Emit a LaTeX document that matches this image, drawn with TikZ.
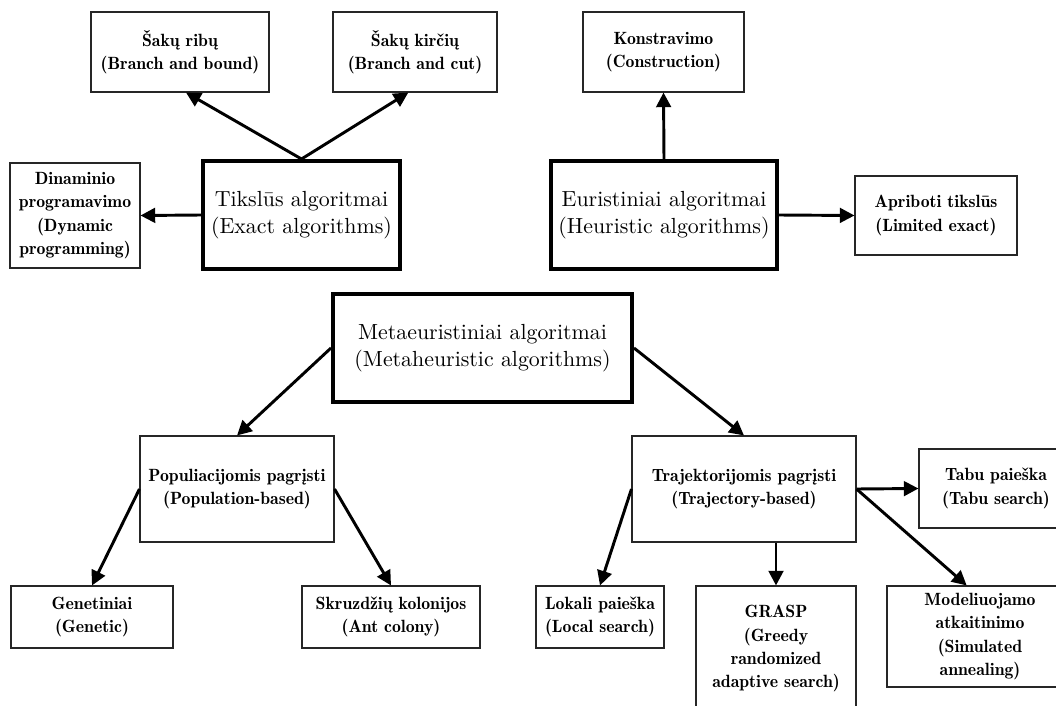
\documentclass[tikz,border=0pt]{standalone}
\usepackage{fontspec}
\newfontfamily\bigfnt{lmroman10-regular}[Extension=.otf]
\newfontfamily\smallfnt{lmromandemi10-regular}[Extension=.otf]
\usetikzlibrary{arrows.meta,calc}
\tikzset{
  x=0.75pt, y=-0.75pt,
  sbox/.style={draw=black!85, line width=0.8pt, rectangle, inner sep=0pt, align=center,
    font=\smallfnt\fontsize{13.3}{17.5}\selectfont},
  bbox/.style={draw=black, line width=3pt, rectangle, inner sep=0pt, align=center,
    font=\bigfnt\fontsize{16.4}{20.3}\selectfont},
  arr/.style={line width=2.2pt, -{Triangle[length=11pt,width=11pt]}},
}
\begin{document}
\begin{tikzpicture}
\useasboundingbox (0,0) rectangle (1056,706);
\clip (0,0) rectangle (1056,706);
\fill[white] (0,0) rectangle (1056,706);
% top left group
\node[sbox, minimum width=133.5pt, minimum height=60pt] (br) at (180,52) {Šakų ribų\\(Branch and bound)};
\node[sbox, minimum width=123pt, minimum height=60pt] (bc) at (415,52) {Šakų kirčių\\(Branch and cut)};
\node[sbox, minimum width=97.5pt, minimum height=78.75pt] (dp) at (75,215.5) {Dinaminio\\programavimo\\(Dynamic\\programming)};
\node[bbox, minimum width=147.75pt, minimum height=81pt] (ex) at (301.5,215) {Tikslūs algoritmai\\(Exact algorithms)};
% top right group
\node[sbox, minimum width=120.75pt, minimum height=60pt] (con) at (663.5,52) {Konstravimo\\(Construction)};
\node[bbox, minimum width=169.5pt, minimum height=81pt] (heu) at (664,215) {Euristiniai algoritmai\\(Heuristic algorithms)};
\node[sbox, minimum width=121.5pt, minimum height=59.25pt] (lim) at (936,215.5) {Apriboti tikslūs\\(Limited exact)};
% meta
\node[bbox, minimum width=224.25pt, minimum height=81pt] (meta) at (482.5,348) {Metaeuristiniai algoritmai\\(Metaheuristic algorithms)};
\node[sbox, minimum width=145.5pt, minimum height=79.5pt] (pop) at (237,489) {Populiacijomis pagrįsti\\(Population-based)};
\node[sbox, minimum width=121.5pt, minimum height=46.5pt] (gen) at (92,617) {Genetiniai\\(Genetic)};
\node[sbox, minimum width=133.5pt, minimum height=46.5pt] (ant) at (391,617) {Skruzdžių kolonijos\\(Ant colony)};
\node[sbox, minimum width=168pt, minimum height=79.5pt] (traj) at (744,489) {Trajektorijomis pagrįsti\\(Trajectory-based)};
\node[sbox, minimum width=115.5pt, minimum height=59.25pt] (tabu) at (996,488.5) {Tabu paieška\\(Tabu search)};
\node[sbox, minimum width=96pt, minimum height=46.5pt] (ls) at (600,617) {Lokali paieška\\(Local search)};
\node[sbox, minimum width=120pt, minimum height=94.5pt] (grasp) at (776,649) {GRASP\\(Greedy\\randomized\\adaptive search)};
\node[sbox, minimum width=139.5pt, minimum height=75.75pt] (sa) at (980,636.5) {Modeliuojamo\\atkaitinimo\\(Simulated\\annealing)};
% arrows
\draw[arr] (ex.north) -- ([xshift=4.5pt]br.south);
\draw[arr] (ex.north) -- ([xshift=-5pt]bc.south);
\draw[arr] (ex.west) -- (dp.east);
\draw[arr] (heu.north) -- (con.south);
\draw[arr] (heu.east) -- (lim.west);
\draw[arr] (meta.west) -- (pop.north);
\draw[arr] (meta.east) -- (traj.north);
\draw[arr] (pop.west) -- (gen.north);
\draw[arr] (pop.east) -- (ant.north);
\draw[arr] (traj.east) -- (tabu.west);
\draw[arr] (traj.east) -- ([xshift=-10pt]sa.north);
\draw[arr] (grasp.north |- traj.south) -- (grasp.north);
\draw[arr] (traj.west) -- (ls.north);
\end{tikzpicture}
\end{document}
